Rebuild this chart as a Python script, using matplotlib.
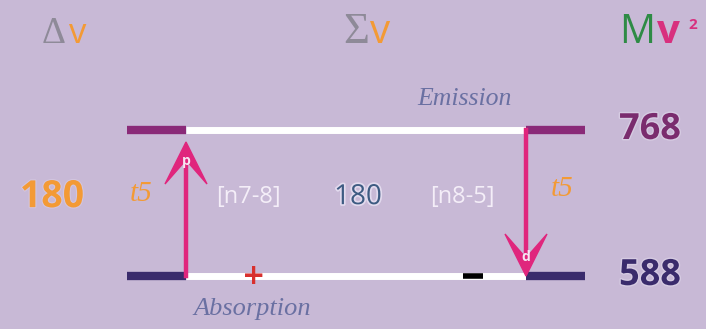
import matplotlib
matplotlib.use("Agg")
import matplotlib.pyplot as plt
import matplotlib.patheffects as pe
from matplotlib.patches import Polygon

# energy levels (Mv^2) and the matching labels
levels = [588, 768]
level_labels = ["588", "768"]
delta_v = [180]
sum_v = [180]
transition_labels = ["[n7-8]", "[n8-5]"]
time_labels = ["t5", "t5"]
arrow_letters = ["p", "d"]
headers = ["\u0394", "\u03a3", "M"]

BG = "#c8b9d6"
PINK = "#e0267d"
ORANGE = "#f39a35"
LOW_C = "#3a2b6c"
HIGH_C = "#8a2a78"
SLATE = "#6a70a2"

# horizontal layout (pixels of the 706 px canvas)
x_left, x_in_l, x_in_r, x_right = 127, 186, 526, 585

lo, hi = levels
px = 146.0 / (hi - lo)          # pixels per energy unit

fig = plt.figure(figsize=(7.06, 3.29), dpi=100)
fig.patch.set_facecolor(BG)
ax = fig.add_axes([0, 0, 1, 1])
ax.set_facecolor(BG)
ax.set_xlim(0, 706)
ax.set_ylim(lo - 53 / px, hi + 130 / px)
ax.axis("off")

glow = [pe.withStroke(linewidth=2, foreground="#d6cbe2")]

# level lines
for lev, col in zip(levels, [LOW_C, HIGH_C]):
    ax.plot([x_in_l, x_in_r], [lev, lev], color="white", lw=5, solid_capstyle="butt", zorder=2)
    ax.plot([x_left, x_in_l], [lev, lev], color=col, lw=6, solid_capstyle="butt", zorder=3)
    ax.plot([x_in_r, x_right], [lev, lev], color=col, lw=6, solid_capstyle="butt", zorder=3)

# level values on the right
for lev, lab, col in zip(levels, level_labels, [LOW_C, "#7a2c6e"]):
    ax.text(650, lev, lab, ha="center", va="center", fontsize=26, fontweight="bold",
            family="Open Sans", color=col, path_effects=glow)


def arrow(x, y0, y1, letter):
    # shaft plus a barbed head, in data units
    d = 1 if y1 > y0 else -1
    L = 42 / px
    notch = 18 / px
    w = 21
    ax.plot([x, x], [y0, y1 - d * notch], color=PINK, lw=3.2, zorder=4)
    head = Polygon([[x, y1], [x + w, y1 - d * L], [x, y1 - d * notch],
                    [x - w, y1 - d * L]], closed=True, color=PINK, zorder=5)
    ax.add_patch(head)
    ax.text(x, y1 - d * 19 / px, letter, ha="center", va="center", color="#f6e6f2",
            fontsize=10, fontweight="bold", family="Open Sans", zorder=6)


arrow(x_in_l, lo, hi - 12 / px, arrow_letters[0])
arrow(x_in_r, hi, lo, arrow_letters[1])

mid = lo + (hi - lo) * 0.54
ax.text(52, mid, str(delta_v[0]), ha="center", va="center", fontsize=27, fontweight="bold",
        family="Open Sans", color=ORANGE, path_effects=[pe.withStroke(linewidth=1.5, foreground="#d3c6df")])
ax.text(358, mid, str(sum_v[0]), ha="center", va="center", fontsize=20,
        family="Open Sans", color="#3d5b82", path_effects=[pe.withStroke(linewidth=2.5, foreground="#e2daee")])
ax.text(248, mid, transition_labels[0], ha="center", va="center", fontsize=17,
        family="Open Sans", color="#f4eef8")
ax.text(462, mid, transition_labels[1], ha="center", va="center", fontsize=17,
        family="Open Sans", color="#f4eef8")
ax.text(141, mid + 3 / px, time_labels[0], ha="center", va="center", fontsize=21,
        family="Liberation Serif", style="italic", color=ORANGE)
ax.text(562, mid + 8 / px, time_labels[1], ha="center", va="center", fontsize=21,
        family="Liberation Serif", style="italic", color=ORANGE)

# signs on the lower line
ax.text(254, lo, "+", ha="center", va="center", fontsize=20, fontweight="bold",
        family="DejaVu Sans", color="#d8302e", zorder=6)
ax.plot([463, 483], [lo, lo], color="black", lw=4, solid_capstyle="butt", zorder=6)

ax.text(464, hi + 31 / px, "Emission", ha="center", va="center", fontsize=18.5,
        family="Liberation Serif", style="italic", color=SLATE)
ax.text(252, lo - 33 / px, "Absorption", ha="center", va="center", fontsize=19,
        family="Liberation Serif", style="italic", color=SLATE)

# column headers (baseline about 42 px from the top)
top = ax.get_xaxis_transform()
base = 1 - 43 / 329.0
ax.text(66, base, headers[0], transform=top, ha="right", va="baseline", fontsize=27,
        family="Liberation Serif", color="#8e8a98")
ax.text(69, base, "v", transform=top, ha="left", va="baseline", fontsize=25,
        family="Open Sans", color=ORANGE)
ax.text(369, base, headers[1], transform=top, ha="right", va="baseline", fontsize=32,
        family="Liberation Serif", color="#8e8a98")
ax.text(370, base, "v", transform=top, ha="left", va="baseline", fontsize=29,
        family="Open Sans", color=ORANGE)
ax.text(655, base, headers[2], transform=top, ha="right", va="baseline", fontsize=29,
        family="Open Sans", color="#2e8b45")
ax.text(657, base, "v", transform=top, ha="left", va="baseline", fontsize=29,
        family="Open Sans", fontweight="bold", color="#d8307e")
ax.text(688, 1 - 29 / 329.0, "2", transform=top, ha="left", va="baseline", fontsize=11,
        family="Open Sans", fontweight="bold", color="#d8307e")

fig.savefig("out.png", dpi=100, facecolor=BG)
